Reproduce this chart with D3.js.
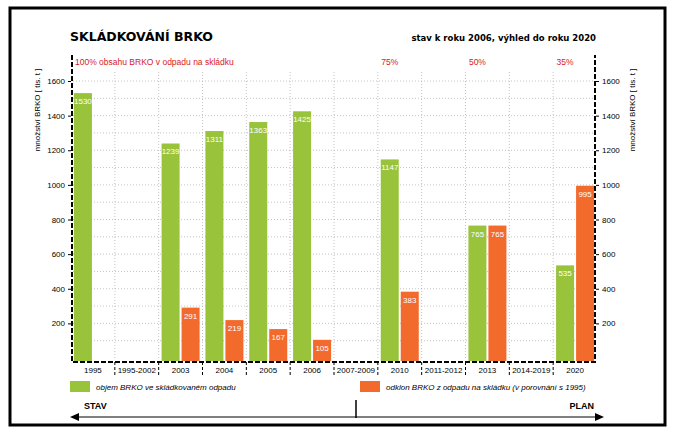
<!DOCTYPE html>
<html><head><meta charset="utf-8">
<script src="https://cdn.jsdelivr.net/npm/d3@7"></script>
<style>body{margin:0;background:#fff;font-family:"Liberation Sans",Arial,sans-serif}</style>
</head><body><div id="chart"></div>
<script>
const categories = ['1995','1995-2002','2003','2004','2005','2006','2007-2009','2010','2011-2012','2013','2014-2019','2020'];
const greenValues = [1530,null,1239,1311,1363,1425,null,1147,null,765,null,535];
const orangeValues = [null,null,291,219,167,105,null,383,null,765,null,995];
const yTicks = [200,400,600,800,1000,1200,1400,1600];
const targets = [['100% obsahu BRKO v odpadu na skládku',0,'start'],['75%',7,'middle'],['50%',9,'middle'],['35%',11,'middle']];

const width = 677, height = 446;
const green = '#99c33b', orange = '#f26a2c';
const svg = d3.select('#chart').append('svg').attr('width', width).attr('height', height);

svg.append('rect').attr('x', 10).attr('y', 8).attr('width', 655).attr('height', 417)
    .attr('fill', 'none').attr('stroke', '#000').attr('stroke-width', 3);

const x = d3.scaleBand().domain(categories).range([71, 597]);
const y = d3.scaleLinear().domain([0, 1600]).range([358, 81]);

// gridlines
const grid = svg.append('g');
grid.selectAll('.h').data(d3.range(100, 1700, 100)).join('line')
    .attr('x1', 73).attr('x2', 595).attr('y1', d => y(d)).attr('y2', d => y(d))
    .attr('stroke', '#aaa').attr('stroke-width', 0.7).attr('stroke-dasharray', '1,2');
grid.selectAll('.v').data(categories.slice(1)).join('line')
    .attr('x1', d => x(d)).attr('x2', d => x(d)).attr('y1', 72).attr('y2', 360)
    .attr('stroke', '#aaa').attr('stroke-width', 0.7).attr('stroke-dasharray', '1,2');

// bars
const bw = 18;
function drawBars(vals, color, dx) {
    const g = svg.append('g');
    const d = categories.map((c, i) => ({ c, v: vals[i] })).filter(d => d.v != null);
    g.selectAll('rect').data(d).join('rect')
        .attr('x', d => x(d.c) + x.bandwidth() / 2 + dx).attr('width', bw)
        .attr('y', d => y(d.v)).attr('height', d => y(0) - y(d.v) + 3).attr('fill', color);
    g.selectAll('text').data(d).join('text')
        .attr('x', d => x(d.c) + x.bandwidth() / 2 + dx + bw / 2).attr('y', d => y(d.v) + 11)
        .attr('text-anchor', 'middle').attr('fill', '#fff').attr('font-size', 8).text(d => d.v);
}
drawBars(greenValues, green, -19);
drawBars(orangeValues, orange, 1);

// dashed frame of the plot
const frame = svg.append('g').attr('fill', 'none').attr('stroke', '#000')
    .attr('stroke-width', 2).attr('stroke-dasharray', '5,2');
frame.append('path').attr('d', 'M72,55 V362 H595 V55');
frame.selectAll('.sep').data(categories.slice(1)).join('line')
    .attr('x1', d => x(d)).attr('x2', d => x(d)).attr('y1', 362).attr('y2', 375)
    .attr('stroke-width', 1).attr('stroke-dasharray', '3,2');

const fmt = d3.format('d');
const yl = d3.axisLeft(y).tickValues(yTicks).tickSize(3).tickFormat(fmt);
const yr = d3.axisRight(y).tickValues(yTicks).tickSize(3).tickFormat(fmt);
[svg.append('g').attr('transform', 'translate(71,0)').call(yl),
 svg.append('g').attr('transform', 'translate(596,0)').call(yr)].forEach(g => {
    g.select('.domain').remove();
    g.selectAll('text').attr('font-size', 8).attr('font-family', 'Liberation Sans');
});
const xa = svg.append('g').attr('transform', 'translate(0,362)').call(d3.axisBottom(x).tickSize(0).tickPadding(5));
xa.select('.domain').remove();
xa.selectAll('text').attr('font-size', 8).attr('font-family', 'Liberation Sans');

// texts
svg.append('text').attr('x', 70).attr('y', 41).attr('font-weight', 'bold').attr('font-size', 12.5)
    .attr('font-family', 'Verdana,DejaVu Sans').text('SKLÁDKOVÁNÍ BRKO');
svg.append('text').attr('x', 596).attr('y', 41).attr('text-anchor', 'end').attr('font-weight', 'bold')
    .attr('font-size', 8.5).attr('font-family', 'Verdana,DejaVu Sans').text('stav k roku 2006, výhled do roku 2020');
svg.selectAll('.tg').data(targets).join('text')
    .attr('x', d => d[1] === 0 ? 75 : x(categories[d[1]]) + x.bandwidth() / 2 - 10)
    .attr('y', 65).attr('text-anchor', d => d[2]).attr('fill', '#d7191c').attr('font-size', 8.5).text(d => d[0]);
[[40, 'rotate(-90,40,110)'], [635, 'rotate(-90,635,110)']].forEach(([xx, t]) =>
    svg.append('text').attr('x', xx).attr('y', 110).attr('transform', t).attr('text-anchor', 'middle')
        .attr('font-size', 8).text('množství BRKO [ tis. t ]'));

// legend
svg.append('rect').attr('x', 70).attr('y', 381).attr('width', 20).attr('height', 11).attr('fill', green);
svg.append('text').attr('x', 96).attr('y', 390).attr('font-size', 8).attr('font-style', 'italic')
    .text('objem BRKO ve skládkovaném odpadu');
svg.append('rect').attr('x', 360).attr('y', 381).attr('width', 20).attr('height', 11).attr('fill', orange);
svg.append('text').attr('x', 386).attr('y', 390).attr('font-size', 8).attr('font-style', 'italic')
    .text('odklon BRKO z odpadu na skládku (v porovnání s 1995)');

svg.append('text').attr('x', 84).attr('y', 409).attr('font-size', 9).attr('font-weight', 'bold').text('STAV');
svg.append('text').attr('x', 594).attr('y', 409).attr('text-anchor', 'end').attr('font-size', 9).attr('font-weight', 'bold').text('PLAN');
svg.append('line').attr('x1', 76).attr('y1', 417).attr('x2', 598).attr('y2', 417).attr('stroke', '#000');
svg.append('line').attr('x1', 356).attr('y1', 400).attr('x2', 356).attr('y2', 418).attr('stroke', '#000').attr('stroke-width', 1.5);
svg.append('path').attr('d', 'M70,417 L79,413 L79,421 Z').attr('fill', '#000');
svg.append('path').attr('d', 'M604,417 L595,413 L595,421 Z').attr('fill', '#000');
</script></body></html>
